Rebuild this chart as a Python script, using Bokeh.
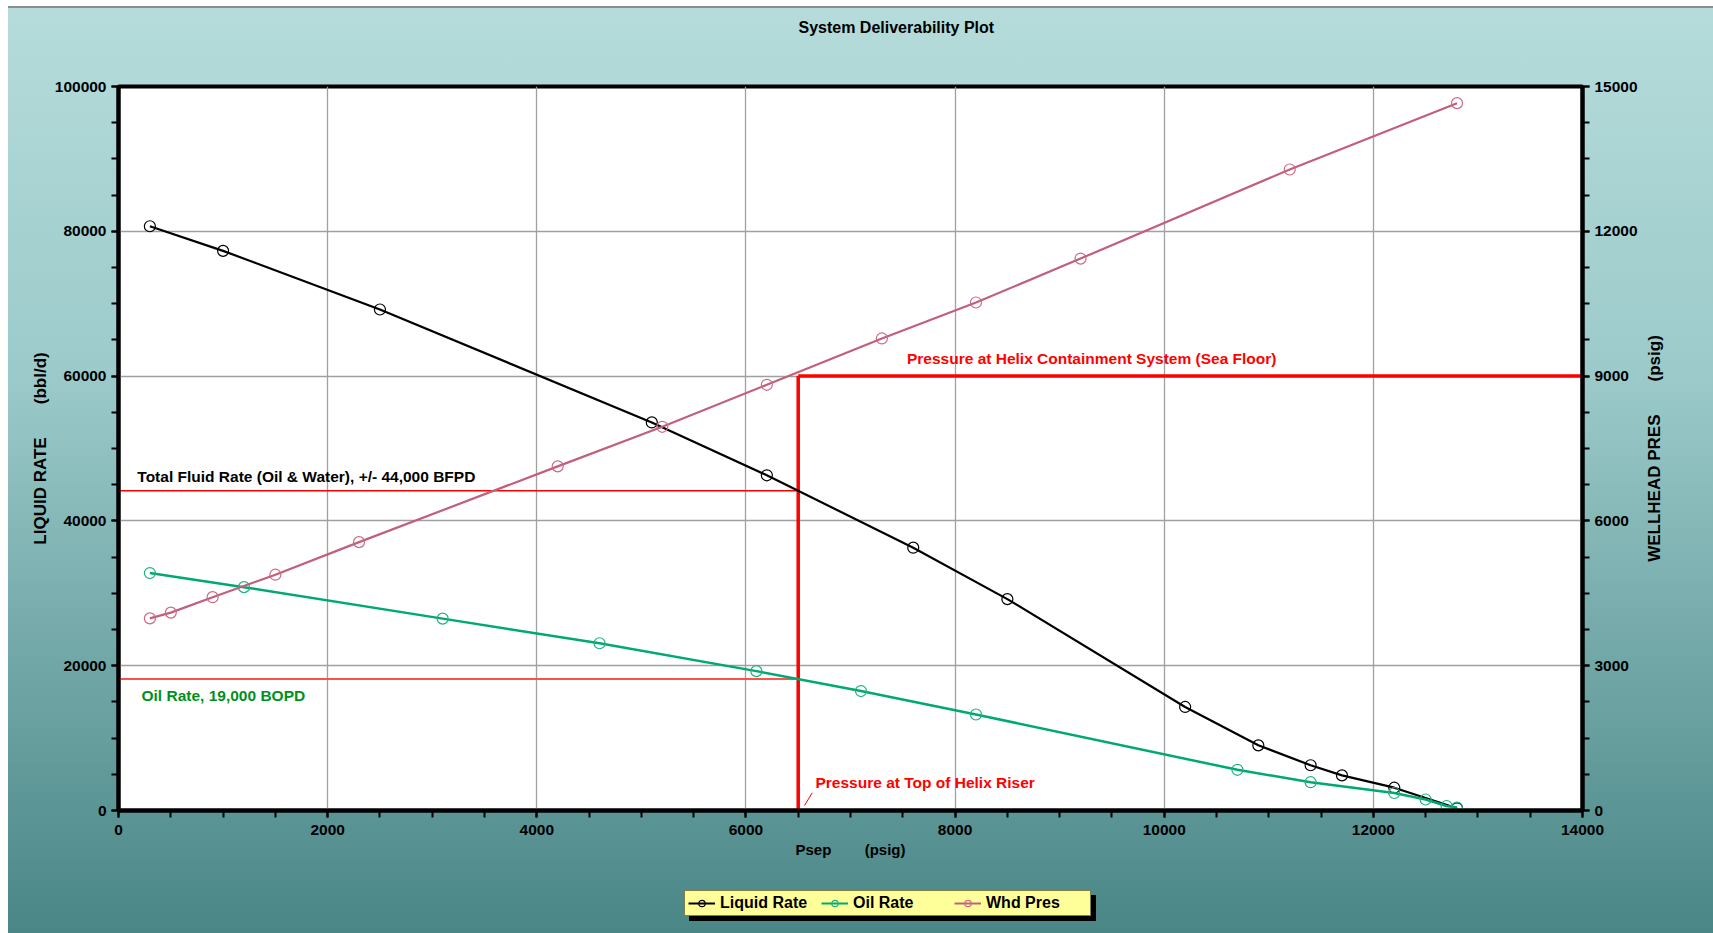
import math
from bokeh.plotting import figure
from bokeh.layouts import column, row
from bokeh.models import (Range1d, LinearAxis, SingleIntervalTicker, BasicTickFormatter,
                          Label, Legend, LegendItem)
from bokeh.embed import file_html
from bokeh.resources import INLINE

# ---------------- data ----------------
psep_liquid = [300, 1000, 2500, 5100, 6200, 7600, 8500, 10200, 10900, 11400, 11700, 12200, 12800]
liquid_rate = [80700, 77300, 69200, 53600, 46300, 36300, 29200, 14300, 9000, 6250, 4850, 3150, 300]

psep_oil = [300, 1200, 3100, 4600, 6100, 7100, 8200, 10700, 11400, 12200, 12500, 12700, 12800]
oil_rate = [32800, 30850, 26500, 23100, 19250, 16500, 13260, 5620, 3910, 2420, 1520, 620, 400]

psep_whd = [300, 500, 900, 1500, 2300, 4200, 5200, 6200, 7300, 8200, 9200, 11200, 12800]
whd_pres = [3980, 4100, 4420, 4885, 5560, 7130, 7950, 8820, 9780, 10525, 11435, 13280, 14655]

riser_psep = 6500            # Pressure at Top of Helix Riser (psig)
seafloor_whd = 9000          # Pressure at Helix Containment System (psig, right axis)
total_fluid_at_riser = 44150 # bbl/d
oil_at_riser = 18150         # bbl/d

series_labels = ["Liquid Rate", "Oil Rate", "Whd Pres"]
x_max, y_max, whd_max = 14000, 100000, 15000

FONT = "Liberation Sans"
NB = "\u00a0"

LIQ_COLOR, OIL_COLOR, WHD_COLOR = "black", "#00a874", "#c0607a"
LIQ_MK, OIL_MK, WHD_MK = "black", "#20b080", "#cc6a86"

MAIN_W, STRIP_W, MAIN_H, LEG_H = 1642, 71, 880, 53

# ---------------- main figure ----------------
p = figure(width=MAIN_W, height=MAIN_H, x_range=Range1d(0, x_max), y_range=Range1d(0, y_max),
           output_backend="svg", toolbar_location=None,
           min_border_left=118, min_border_right=60, min_border_top=86, min_border_bottom=70)
p.extra_y_ranges = {"whd": Range1d(0, whd_max)}
p.border_fill_color = None
p.background_fill_color = "white"
p.outline_line_color = "black"
p.outline_line_width = 4

# title: blank lines below the text lift it to the top band of the chart
p.title.text = "System Deliverability Plot\n" + NB + "\n" + NB + "\n" + NB
p.title.text_font = FONT
p.title.text_font_size = "16px"
p.title.text_font_style = "bold"
p.title.text_color = "black"
p.title.align = "left"
p.title.offset = 680
p.title.standoff = 0

right_axis = LinearAxis(y_range_name="whd")
p.add_layout(right_axis, "right")

def style_axis(ax, interval):
    ax.ticker = SingleIntervalTicker(interval=interval, num_minor_ticks=4)
    ax.formatter = BasicTickFormatter(use_scientific=False)
    ax.axis_line_color = "black"
    ax.axis_line_width = 4
    ax.major_tick_line_color = "black"
    ax.major_tick_line_width = 2
    ax.minor_tick_line_color = "black"
    ax.minor_tick_line_width = 2
    ax.major_tick_in = 0
    ax.major_tick_out = 7
    ax.minor_tick_in = 0
    ax.minor_tick_out = 7
    ax.major_label_text_font = FONT
    ax.major_label_text_font_style = "bold"
    ax.major_label_text_font_size = "15.5px"
    ax.major_label_text_color = "black"
    ax.major_label_standoff = 5
    ax.axis_label_text_font = FONT
    ax.axis_label_text_font_style = "bold"
    ax.axis_label_text_color = "black"

style_axis(p.xaxis[0], 2000)
style_axis(p.yaxis[0], 20000)
style_axis(right_axis, 3000)

p.xaxis[0].major_label_standoff = 7
p.xaxis[0].axis_label = "Psep" + NB * 8 + "(psig)"
p.xaxis[0].axis_label_text_font_size = "15px"
p.xaxis[0].axis_label_standoff = 3

p.yaxis[0].axis_label = "LIQUID RATE" + NB * 7 + "(bbl/d)"
p.yaxis[0].axis_label_text_font_size = "17px"
p.yaxis[0].axis_label_standoff = 2

p.xgrid.grid_line_color = "#a0a0a0"
p.ygrid.grid_line_color = "#a0a0a0"
p.xgrid.grid_line_width = 1.3
p.ygrid.grid_line_width = 1.3

# ---------------- reference lines ----------------
seafloor_rate_level = seafloor_whd / whd_max * y_max
p.segment(x0=[0], y0=[total_fluid_at_riser], x1=[riser_psep], y1=[total_fluid_at_riser],
          line_color="#ff0000", line_width=1.5)
p.segment(x0=[0], y0=[oil_at_riser], x1=[riser_psep], y1=[oil_at_riser],
          line_color="#ff5050", line_width=2)
p.segment(x0=[riser_psep], y0=[0], x1=[riser_psep], y1=[seafloor_rate_level],
          line_color="#ff0000", line_width=3.5)
p.segment(x0=[riser_psep], y0=[seafloor_rate_level], x1=[x_max], y1=[seafloor_rate_level],
          line_color="#ff0000", line_width=3.5)
p.segment(x0=[6560], y0=[690], x1=[6634], y1=[2445], line_color="#ff0000", line_width=1)

# ---------------- series ----------------
p.line(psep_liquid, liquid_rate, line_color=LIQ_COLOR, line_width=2.2)
p.scatter(psep_liquid, liquid_rate, marker="circle", size=11, fill_color=None,
          line_color=LIQ_MK, line_width=1.2)
p.line(psep_oil, oil_rate, line_color=OIL_COLOR, line_width=2.5)
p.scatter(psep_oil, oil_rate, marker="circle", size=11, fill_color=None,
          line_color=OIL_MK, line_width=1.2)
p.line(psep_whd, whd_pres, line_color=WHD_COLOR, line_width=2.2, y_range_name="whd")
p.scatter(psep_whd, whd_pres, marker="circle", size=11, fill_color=None,
          line_color=WHD_MK, line_width=1.2, y_range_name="whd")

# ---------------- annotations ----------------
def ann(x, y, text, color, size="15.5px"):
    p.add_layout(Label(x=x, y=y, text=text, text_color=color, text_font=FONT,
                       text_font_style="bold", text_font_size=size,
                       text_align="left", text_baseline="middle"))

ann(7540, 62400, "Pressure at Helix Containment System (Sea Floor)", "#ff0000")
ann(180, 46130, "Total Fluid Rate (Oil & Water), +/- 44,000 BFPD", "black")
ann(220, 15880, "Oil Rate, 19,000 BOPD", "#009020")
ann(6665, 3830, "Pressure at Top of Helix Riser", "#ff0000")

# ---------------- right-hand axis title strip ----------------
strip = figure(width=STRIP_W, height=MAIN_H, x_range=Range1d(0, STRIP_W), y_range=Range1d(0, whd_max),
               output_backend="svg", toolbar_location=None, title_location=None,
               x_axis_location=None, y_axis_location=None,
               min_border_left=0, min_border_right=0, min_border_top=86, min_border_bottom=70)
strip.border_fill_color = None
strip.background_fill_color = None
strip.outline_line_color = None
strip.xgrid.visible = False
strip.ygrid.visible = False
strip.add_layout(Label(x=12, y=whd_max / 2, text="WELLHEAD PRES" + NB * 7 + "(psig)",
                       angle=math.pi / 2, text_align="center", text_baseline="middle",
                       text_font=FONT, text_font_style="bold", text_font_size="17px",
                       text_color="black"))

# ---------------- legend strip (below the chart) ----------------
lf = figure(width=MAIN_W + STRIP_W, height=LEG_H, x_range=Range1d(0, 1), y_range=Range1d(0, 1),
            output_backend="svg", toolbar_location=None, title_location=None,
            x_axis_location=None, y_axis_location=None,
            min_border_left=118, min_border_right=131, min_border_top=0, min_border_bottom=0)
lf.border_fill_color = None
lf.background_fill_color = None
lf.outline_line_color = None
lf.xgrid.visible = False
lf.ygrid.visible = False

# legend proxies: the same series, drawn outside this strip's visible range
def proxy(xs, ys, line_color, mk_color):
    ln = lf.line(xs, ys, line_color=line_color, line_width=2)
    mk = lf.scatter(xs, ys, marker="circle", size=9, fill_color=None,
                    line_color=mk_color, line_width=1.2)
    return [ln, mk]

proxies = [proxy(psep_liquid, liquid_rate, LIQ_COLOR, LIQ_MK),
           proxy(psep_oil, oil_rate, OIL_COLOR, OIL_MK),
           proxy(psep_whd, whd_pres, WHD_COLOR, WHD_MK)]

def make_legend(shadow):
    items = [LegendItem(label=(NB if shadow else series_labels[i]), renderers=proxies[i])
             for i in range(3)]
    lg = Legend(items=items, orientation="horizontal",
                location=(571, 12) if shadow else (566, 17),
                padding=3, spacing=0, margin=0,
                glyph_width=27, glyph_height=16, label_standoff=5,
                label_width=101, label_height=16,
                label_text_font=FONT, label_text_font_style="bold",
                label_text_font_size="16px", label_text_color="black",
                background_fill_color="black" if shadow else "#ffff99",
                background_fill_alpha=1.0,
                border_line_color="black", border_line_width=1.5)
    return lg

lf.add_layout(make_legend(True), "center")
lf.add_layout(make_legend(False), "center")

page = column(row(p, strip, spacing=0), lf, spacing=0)
page.styles = {"background": (
    "linear-gradient(to right, #ffffff 8px, rgba(255,255,255,0) 8px), "
    "linear-gradient(to bottom, #ffffff 0px, #ffffff 6px, #8c8c8c 6px, #8c8c8c 8px, "
    "#b5dcdb 8px, #9ccaca 40%, #4a8686 100%)")}

open("out.html", "w").write(file_html(page, INLINE))
